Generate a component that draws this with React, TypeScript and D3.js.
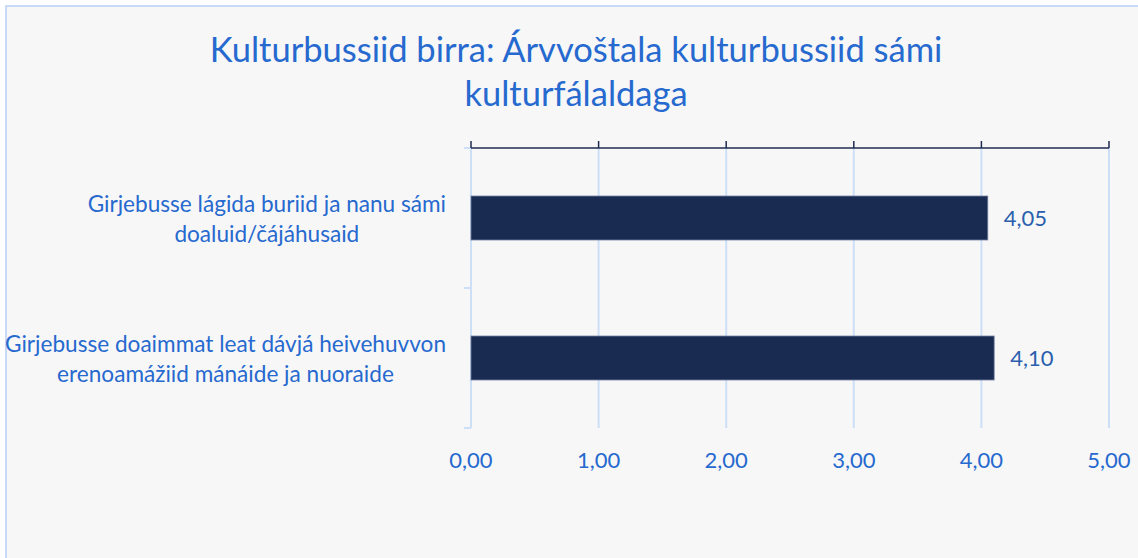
import React from "react";
import * as d3 from "d3";

const categories: string[][] = [
  ["Girjebusse lágida buriid ja nanu sámi", "doaluid/čájáhusaid"],
  ["Girjebusse doaimmat leat dávjá heivehuvvon", "erenoamážiid mánáide ja nuoraide"],
];
const values: number[] = [4.05, 4.1];
const ticks: number[] = [0, 1, 2, 3, 4, 5];
const titleLines: string[] = [
  "Kulturbussiid birra: Árvvoštala kulturbussiid sámi",
  "kulturfálaldaga",
];

const W = 1138;
const H = 558;
const FONT = "Lato, 'Open Sans', sans-serif";
const LABEL_SIZE = 22.6;
const fmt = (v: number) => v.toFixed(2).replace(".", ",");

let ctx: CanvasRenderingContext2D | null = null;
function measure(text: string, size: number): number {
  if (!ctx) ctx = document.createElement("canvas").getContext("2d");
  if (!ctx) return text.length * size * 0.5;
  ctx.font = `${size}px Lato`;
  return ctx.measureText(text).width;
}

export default function App() {
  const x = d3.scaleLinear().domain([0, 5]).range([471, 1109]);
  const y = d3.scaleBand<number>().domain(values.map((_, i) => i)).range([148, 428]).padding(0);
  const barH = y.bandwidth() * 0.314;
  const top = 148;
  const bottom = 428;
  const labelRight = 446;
  return (
    <svg width={W} height={H} style={{ position: "absolute", left: 0, top: 0 }} fontFamily={FONT}>
      <rect x={0} y={0} width={W} height={H} fill="#ffffff" />
      <rect x={6} y={6} width={W + 20} height={H + 20} fill="#f7f7f7" stroke="#c8dbf6" strokeWidth={2} />
      {titleLines.map((t, i) => (
        <text key={i} x={576} y={62 + i * 44} textAnchor="middle" fontSize={34.5} fill="#2669cf">
          {t}
        </text>
      ))}
      {ticks.map((t) => (
        <line key={"g" + t} x1={x(t)} x2={x(t)} y1={top} y2={bottom} stroke="#cddff7" strokeWidth={2} />
      ))}
      <line x1={x(0)} x2={x(0)} y1={top} y2={bottom} stroke="#cddff7" strokeWidth={2} />
      {[top, top + y.step(), bottom].map((v, i) => (
        <line key={"lt" + i} x1={464} x2={x(0)} y1={v} y2={v} stroke="#cddff7" strokeWidth={2} />
      ))}
      <line x1={x(0)} x2={x(5)} y1={top} y2={top} stroke="#1f2d52" strokeWidth={1.5} />
      {ticks.map((t) => (
        <line key={"t" + t} x1={x(t)} x2={x(t)} y1={141} y2={top} stroke="#1f2d52" strokeWidth={1.5} />
      ))}
      {values.map((v, i) => {
        const cy = (y(i) as number) + y.bandwidth() / 2;
        const maxW = Math.max(...categories[i].map((l) => measure(l, LABEL_SIZE)));
        const cx = labelRight - maxW / 2;
        return (
          <g key={"b" + i}>
            <rect x={x(0)} y={cy - barH / 2} width={x(v) - x(0)} height={barH} fill="#1a2b52" stroke="#6f7d9c" strokeWidth={0.8} />
            <text x={x(v) + 16} y={cy + 8} fontSize={22} fill="#2b5fad">
              {fmt(v)}
            </text>
            {categories[i].map((line, j) => (
              <text key={j} x={cx} y={cy - 6 + j * 30} textAnchor="middle" fontSize={LABEL_SIZE} fill="#2669cf">
                {line}
              </text>
            ))}
          </g>
        );
      })}
      {ticks.map((t) => (
        <text key={"l" + t} x={x(t)} y={468} textAnchor="middle" fontSize={22} fill="#2669cf">
          {fmt(t)}
        </text>
      ))}
    </svg>
  );
}
